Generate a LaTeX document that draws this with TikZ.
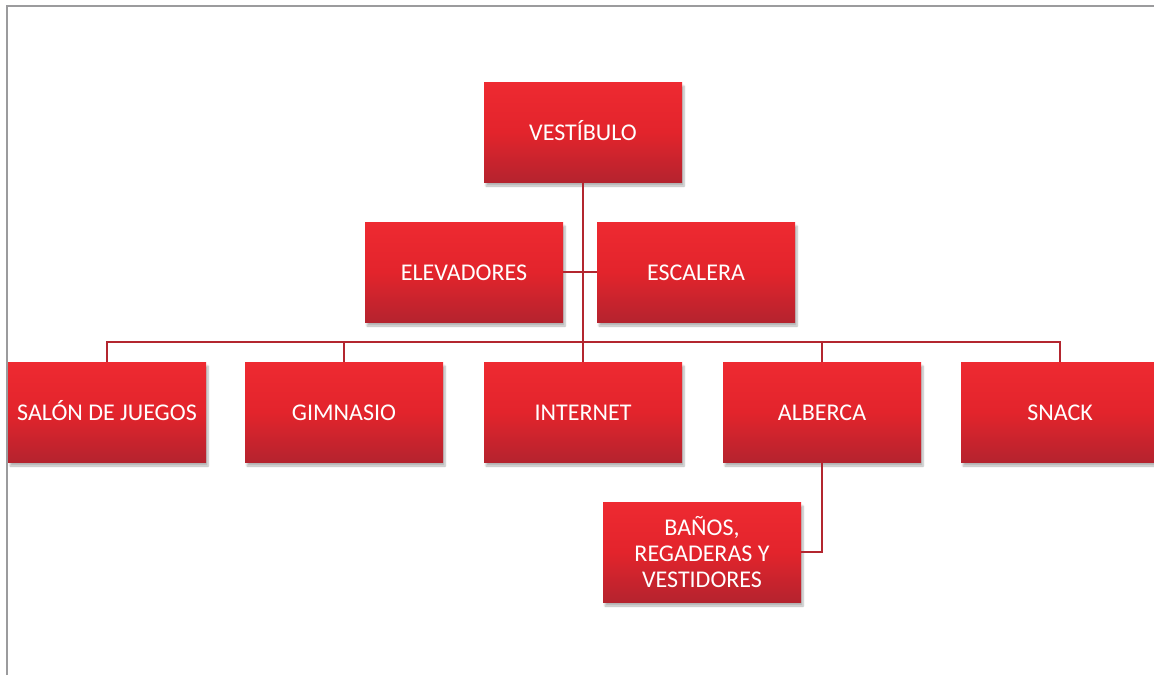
\documentclass[tikz,border=0pt]{standalone}
\usepackage{fontspec}
\setmainfont{Carlito}
\usetikzlibrary{shadows.blur}
\definecolor{boxtop}{HTML}{EE2A31}
\definecolor{boxmid}{HTML}{E3242C}
\definecolor{boxbot}{HTML}{B5232E}
\definecolor{linkred}{HTML}{B3262F}
\definecolor{frame}{HTML}{9B9B9D}
\tikzset{
  unit/.style={rectangle, minimum width=198pt, minimum height=100pt, inner sep=0pt,
    top color=boxtop, bottom color=boxbot, middle color=boxmid,
    text=white, align=center,
    font=\fontsize{24}{26}\selectfont,
    blur shadow={shadow xshift=2pt, shadow yshift=-4pt, shadow blur steps=6, shadow opacity=30}},
  oneline/.style={unit, text height=16pt, text depth=0pt},
  link/.style={draw=linkred, line width=2pt}
}
\begin{document}
\begin{tikzpicture}[x=1pt,y=-1pt]
\useasboundingbox (0,0) rectangle (1154,675);
\clip (0,0) rectangle (1154,675);
\draw[frame, line width=2pt] (7,675) -- (7,6) -- (1154,6);
\node[oneline] (vest) at (583,132) {VESTÍBULO};
\node[oneline] (elev) at (464,272) {ELEVADORES};
\node[oneline] (esc) at (696,272) {ESCALERA};
\node[oneline] (salon) at (107,412) {SALÓN DE JUEGOS};
\node[oneline] (gim) at (344,412) {GIMNASIO};
\node[oneline] (inet) at (583,412) {INTERNET};
\node[oneline] (alb) at (822,412) {ALBERCA};
\node[oneline] (snack) at (1060,412) {SNACK};
\node[unit] (banos) at (702,552) {BAÑOS,\\REGADERAS Y\\VESTIDORES};
\coordinate (bar) at (583,342);
\draw[link] (vest.south) -- (inet.north);
\draw[link] (elev.east) -- (esc.west);
\draw[link] (salon.north) |- (bar);
\draw[link] (snack.north) |- (bar);
\draw[link] (gim.north) -- (gim.north |- bar);
\draw[link] (alb.north) -- (alb.north |- bar);
\draw[link] (alb.south) |- (banos.east);
\end{tikzpicture}
\end{document}
